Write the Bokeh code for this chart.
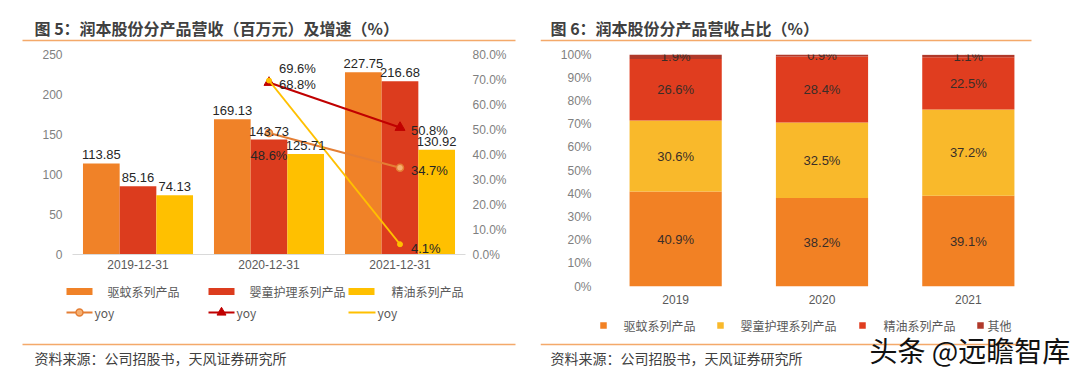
from bokeh.plotting import figure
from bokeh.models import (ColumnDataSource, FactorRange, Range1d, LinearAxis, FixedTicker,
                          NumeralTickFormatter, PrintfTickFormatter, LabelSet, Label)
from bokeh.transform import dodge
from bokeh.layouts import row, column
from bokeh.embed import file_html
from bokeh.resources import INLINE
from bokeh.core.properties import value

# ---------------- data ----------------
years_left = ["2019-12-31", "2020-12-31", "2021-12-31"]
rev_quwen = [113.85, 169.13, 227.75]      # 驱蚊系列产品
rev_yingtong = [85.16, 143.73, 216.68]    # 婴童护理系列产品
rev_jingyou = [74.13, 125.71, 130.92]     # 精油系列产品
yoy_years = ["2020-12-31", "2021-12-31"]
yoy_quwen = [0.486, 0.347]
yoy_yingtong = [0.688, 0.508]
yoy_jingyou = [0.696, 0.041]
left_ticks = [0, 50, 100, 150, 200, 250]
right_ticks = [0.0, 0.1, 0.2, 0.3, 0.4, 0.5, 0.6, 0.7, 0.8]

years_right = ["2019", "2020", "2021"]
share_quwen = [40.9, 38.2, 39.1]
share_yingtong = [30.6, 32.5, 37.2]
share_jingyou = [26.6, 28.4, 22.5]
share_qita = [1.9, 0.9, 1.1]
pct_ticks = [0, 10, 20, 30, 40, 50, 60, 70, 80, 90, 100]

names_left = ["驱蚊系列产品", "婴童护理系列产品", "精油系列产品"]
names_right = ["驱蚊系列产品", "婴童护理系列产品", "精油系列产品", "其他"]
title_left = "图 5：润本股份分产品营收（百万元）及增速（%）"
title_right = "图 6：润本股份分产品营收占比（%）"
source_text = "资料来源：公司招股书，天风证券研究所"
watermark = "头条 @远瞻智库"

# ---------------- styles ----------------
NUM = "Liberation Sans"
CJK = "Noto Sans CJK SC"
C_OR, C_RD, C_YL = "#F08228", "#DC3C1E", "#FFC000"
C_LOR, C_LRD, C_LYL = "#E47E34", "#C00000", "#FFC000"
C_MOR = "#F6B072"
R_OR, R_YL, R_RD, R_DR = "#F28124", "#F9B92B", "#E03D1F", "#B0392A"
SEP = "#F4A96A"
TICK = "#7F7F7F"
LEGTXT = "#595959"
LBL = "#262626"
TOP_H = 46


def style_common(p):
    p.outline_line_color = None
    p.xgrid.visible = False
    p.ygrid.visible = False
    p.background_fill_color = "white"
    p.border_fill_color = "white"


def style_axis(ax, standoff, color):
    ax.axis_line_color = None
    ax.major_tick_line_color = None
    ax.minor_tick_line_color = None
    ax.major_tick_out = 0
    ax.major_tick_in = 0
    ax.minor_tick_out = 0
    ax.major_label_standoff = standoff
    ax.major_label_text_font = NUM
    ax.major_label_text_font_size = "12px"
    ax.major_label_text_color = color


def strip(h):
    s = figure(width=540, height=h, x_range=Range1d(0, 540), y_range=Range1d(h, 0),
               x_axis_type=None, y_axis_type=None, output_backend="svg", toolbar_location=None,
               min_border=0, frame_align=False)
    s.outline_line_color = None
    s.background_fill_color = "white"
    s.border_fill_color = "white"
    return s


def text(p, x, y, t, size="12px", font=CJK, color=LEGTXT, style="normal"):
    p.add_layout(Label(x=x, y=y, text=t, text_font=font, text_font_size=size,
                       text_color=color, text_font_style=style, text_baseline="middle"))


def sep(p, x0, x1, y):
    p.line(x=[x0, x1], y=[y, y], line_color=SEP, line_width=1.3)


# ================= left panel =================
top1 = strip(TOP_H)
text(top1, 34, 27, title_left, size="16px", color="#404040", style="bold")
sep(top1, 22, 515, 40)

FT, FB = 8, 26
p1 = figure(width=540, height=234, x_range=FactorRange(*years_left), y_range=Range1d(0, 250),
            output_backend="svg", toolbar_location=None, frame_align=False,
            min_border_left=72, min_border_right=75, min_border_top=FT, min_border_bottom=FB)
style_common(p1)
p1.extra_y_ranges = {"pct": Range1d(0, 0.8)}
style_axis(p1.xaxis[0], 5, "#595959")
p1.xaxis.axis_line_color = "#D9D9D9"
p1.yaxis.ticker = FixedTicker(ticks=left_ticks)
style_axis(p1.yaxis[0], 10, TICK)
ax_r = LinearAxis(y_range_name="pct", ticker=FixedTicker(ticks=right_ticks),
                  formatter=NumeralTickFormatter(format="0.0%"))
style_axis(ax_r, 7, TICK)
p1.add_layout(ax_r, "right")

W = 0.28
src1 = ColumnDataSource(dict(x=years_left, a=rev_quwen, b=rev_yingtong, c=rev_jingyou,
                             ta=[f"{v:.2f}" for v in rev_quwen],
                             tb=[f"{v:.2f}" for v in rev_yingtong],
                             tc=[f"{v:.2f}" for v in rev_jingyou]))
for off, col, colr, tcol in ((-W, "a", C_OR, "ta"), (0, "b", C_RD, "tb"), (W, "c", C_YL, "tc")):
    p1.vbar(x=dodge("x", off, range=p1.x_range), top=col, width=W, source=src1,
            fill_color=colr, line_color=None)
    p1.add_layout(LabelSet(x=dodge("x", off, range=p1.x_range), y=col, text=tcol, source=src1,
                           text_align="center", text_baseline="bottom", y_offset=4,
                           text_font=value(NUM), text_font_size="13px", text_color=LBL))

src_yoy = ColumnDataSource(dict(x=yoy_years, q=yoy_quwen, y=yoy_yingtong, j=yoy_jingyou))
p1.line(x="x", y="q", source=src_yoy, y_range_name="pct", line_color=C_LOR, line_width=2)
p1.scatter(x="x", y="q", source=src_yoy, y_range_name="pct", marker="circle", size=7,
           fill_color=C_MOR, line_color=C_LOR, line_width=1.5)
p1.line(x="x", y="y", source=src_yoy, y_range_name="pct", line_color=C_LRD, line_width=2)
p1.scatter(x="x", y="y", source=src_yoy, y_range_name="pct", marker="triangle", size=10,
           fill_color=C_LRD, line_color=C_LRD)
p1.line(x="x", y="j", source=src_yoy, y_range_name="pct", line_color=C_LYL, line_width=2)
p1.scatter(x="x", y="j", source=src_yoy, y_range_name="pct", marker="circle", size=5,
           fill_color=C_LYL, line_color=C_LYL)

yoy_label_layout = {
    ("q", 0): (0, -22, "center"), ("q", 1): (11, -3, "left"),
    ("y", 0): (10, -2, "left"), ("y", 1): (11, -3, "left"),
    ("j", 0): (10, 12, "left"), ("j", 1): (11, -4, "left"),
}
for key, vals in (("q", yoy_quwen), ("y", yoy_yingtong), ("j", yoy_jingyou)):
    for i, (xx, vv) in enumerate(zip(yoy_years, vals)):
        xo, yo, al = yoy_label_layout[(key, i)]
        s = ColumnDataSource(dict(x=[xx], y=[vv], t=[f"{vv * 100:.1f}%"]))
        p1.add_layout(LabelSet(x="x", y="y", text="t", source=s, y_range_name="pct",
                               x_offset=xo, y_offset=yo, text_align=al, text_baseline="middle",
                               text_font=value(NUM), text_font_size="13px", text_color=LBL))

# bottom strip left (page y 280..375)
bot1 = strip(95)
for xs, tx, colr, name in ((66, 107, C_OR, names_left[0]), (208, 249, C_RD, names_left[1]),
                           (348, 391, C_YL, names_left[2])):
    bot1.rect(x=xs + 13, y=11, width=26, height=7, fill_color=colr, line_color=None)
    text(bot1, tx, 11, name)
bot1.line(x=[66, 92], y=[32, 32], line_color=C_LOR, line_width=2)
bot1.scatter(x=[79], y=[32], marker="circle", size=7, fill_color=C_MOR, line_color=C_LOR,
             line_width=1.5)
text(bot1, 94, 32, "yoy", font=CJK)
bot1.line(x=[208, 234], y=[32, 32], line_color=C_LRD, line_width=2)
bot1.scatter(x=[221], y=[32], marker="triangle", size=9, fill_color=C_LRD, line_color=C_LRD)
text(bot1, 236, 32, "yoy", font=CJK)
bot1.line(x=[348, 375], y=[32, 32], line_color=C_LYL, line_width=2)
text(bot1, 377, 32, "yoy", font=CJK)
sep(bot1, 22, 515, 64)
text(bot1, 34, 77, source_text, size="14px", color="#404040")

# ================= right panel =================
top2 = strip(TOP_H)
text(top2, 10, 27, title_right, size="16px", color="#404040", style="bold")
sep(top2, 0, 491, 40)

p2 = figure(width=540, height=266, x_range=FactorRange(*years_right), y_range=Range1d(0, 100),
            output_backend="svg", toolbar_location=None, frame_align=False,
            min_border_left=62, min_border_right=39, min_border_top=FT, min_border_bottom=FB)
style_common(p2)
style_axis(p2.xaxis[0], 8, "#595959")
p2.yaxis.ticker = FixedTicker(ticks=pct_ticks)
p2.yaxis.formatter = PrintfTickFormatter(format="%d%%")
style_axis(p2.yaxis[0], 11, TICK)

series = [share_quwen, share_yingtong, share_jingyou, share_qita]
keys = ["s0", "s1", "s2", "s3"]
d2 = dict(x=years_right)
base = [0.0] * len(years_right)
for k, s in zip(keys, series):
    d2[k] = s
    d2[k + "_c"] = [b + v / 2 for b, v in zip(base, s)]
    d2[k + "_t"] = [f"{v:.1f}%" for v in s]
    base = [b + v for b, v in zip(base, s)]
src2 = ColumnDataSource(d2)
p2.vbar_stack(keys, x="x", width=0.63, source=src2,
              fill_color=[R_OR, R_YL, R_RD, R_DR], line_color=None)
for k in keys:
    p2.add_layout(LabelSet(x="x", y=k + "_c", text=k + "_t", source=src2,
                           text_align="center", text_baseline="middle",
                           text_font=value(NUM), text_font_size="13px", text_color="#3A2E28"))

# bottom strip right (page y 312..375)
bot2 = strip(63)
for cx, tx, colr, name in ((63, 83, R_OR, names_right[0]), (180, 200, R_YL, names_right[1]),
                           (322, 343, R_RD, names_right[2]), (440, 447, R_DR, names_right[3])):
    bot2.rect(x=cx, y=13, width=6.5, height=6.5, fill_color=colr, line_color=None)
    text(bot2, tx, 13, name)
sep(bot2, 0, 491, 32)
text(bot2, 10, 45, source_text, size="14px", color="#404040")
text(bot2, 329, 37, watermark, size="28px", color="#111111")

layout = row(column(top1, p1, bot1, spacing=0), column(top2, p2, bot2, spacing=0), spacing=0)
open("out.html", "w").write(file_html(layout, INLINE))
